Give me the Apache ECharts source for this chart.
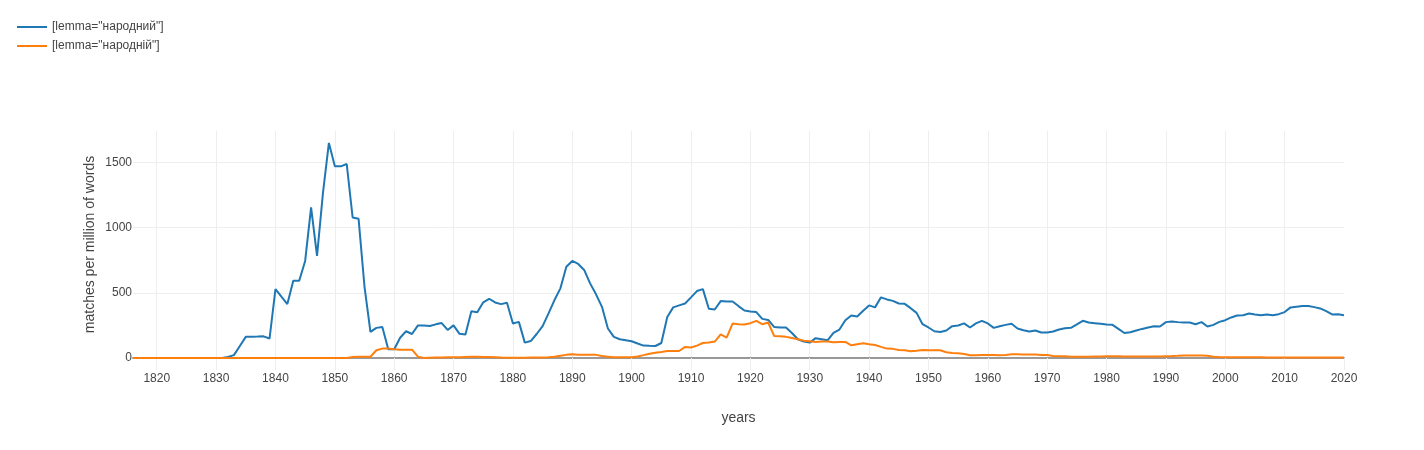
<!DOCTYPE html>
<html>
<head>
<meta charset="utf-8">
<script src="https://cdn.jsdelivr.net/npm/echarts@6/dist/echarts.min.js"></script>
<style>
html,body{margin:0;padding:0;background:#fff;}
#chart{width:1424px;height:450px;}
</style>
</head>
<body>
<div id="chart"></div>
<script>
// Categories: years 1816..2020
const firstYear = 1816, lastYear = 2020;
const years = [];
for (let y = firstYear; y <= lastYear; y++) years.push(String(y));

const seriesNames = ['[lemma="народний"]', '[lemma="народній"]'];

// matches per million of words, one value per year (1816..2020)
const narodnyi = [
  0,0,0,0,                                        // 1816-1819
  0,0,0,0,0,0,0,0,0,0,                            // 1820s
  0,0,8,22,92,162,163,164,166,149,                // 1830s
  528,470,413,592,592,744,1154,782,1265,1649,     // 1840s
  1469,1469,1487,1077,1067,546,200,231,238,67,    // 1850s
  67,155,205,184,250,250,245,258,268,215,         // 1860s
  250,185,180,358,350,427,454,426,413,423,        // 1870s
  265,277,118,130,184,244,342,444,534,700,        // 1880s
  744,721,675,572,488,392,226,162,144,136,        // 1890s
  128,111,95,93,92,115,315,388,403,418,           // 1900s
  465,513,528,377,372,436,433,433,398,364,        // 1910s
  357,352,300,292,238,234,234,192,144,126,        // 1920s
  118,152,144,136,192,218,290,326,318,362,        // 1930s
  403,388,465,449,438,418,415,382,346,259,        // 1940s
  234,205,200,211,244,249,265,234,265,285,        // 1950s
  265,231,244,254,262,226,213,203,211,195,        // 1960s
  195,203,218,228,231,257,285,272,267,262,        // 1970s
  257,254,223,192,198,211,223,234,244,241,        // 1980s
  275,280,275,272,272,259,275,241,254,277,        // 1990s
  290,311,326,328,341,334,328,334,328,336,        // 2000s
  352,388,393,398,398,390,380,359,334,336,        // 2010s
  328                                             // 2020
];
const narodnii = [
  0,0,0,0,
  0,0,0,0,0,0,0,0,0,0,
  0,0,0,0,0,0,0,0,0,0,
  0,0,0,0,0,0,0,0,0,0,
  0,0,0,8,10,10,10,59,72,72,
  67,64,64,64,10,0,2,3,4,5,
  6,5,8,10,9,8,7,6,3,2,
  2,2,2,3,4,4,5,10,18,24,
  28,25,24,24,24,15,10,5,5,5,
  5,12,22,33,40,46,54,54,54,85,
  80,95,115,118,126,182,157,264,259,257,
  267,285,259,272,169,167,162,154,144,133,
  128,123,126,126,120,123,123,97,105,113,
  105,100,85,72,70,62,59,51,56,62,
  59,59,59,44,38,36,31,21,21,23,
  23,23,21,23,28,28,26,26,26,23,
  23,15,13,13,10,10,10,10,11,12,
  13,13,13,12,12,12,12,12,12,12,
  14,15,17,20,20,20,19,17,10,7,
  6,5,5,5,5,5,5,4,4,4,
  4,4,4,4,4,4,4,4,3,3,
  3
];

const yMax = 1740;
const yStep = 500;

const FONT = 'Liberation Sans, Arial, sans-serif';
const TXT = '#444';
const decade = (idx, val) => Number(val) % 10 === 0;

const chart = echarts.init(document.getElementById('chart'), null, {renderer: 'canvas'});
chart.setOption({
  animation: false,
  textStyle: {fontFamily: FONT},
  color: ['#1f77b4', '#ff7f0e'],
  legend: {
    orient: 'vertical',
    left: 12,
    top: 16,
    icon: 'rect',
    itemWidth: 30,
    itemHeight: 2,
    itemGap: 7,
    textStyle: {fontSize: 12, color: TXT, fontFamily: FONT},
    data: seriesNames
  },
  grid: {left: 133, right: 80, top: 131, bottom: 92, containLabel: false},
  xAxis: {
    type: 'category',
    data: years,
    boundaryGap: false,
    name: 'years',
    nameLocation: 'middle',
    nameGap: 53,
    nameMoveOverlap: false,
    nameTextStyle: {fontSize: 14, color: TXT, fontFamily: FONT},
    axisLine: {show: true, onZero: true, lineStyle: {color: '#999', width: 2}},
    axisTick: {show: true, interval: decade, length: 12, lineStyle: {color: '#eee', width: 1}},
    axisLabel: {interval: decade, margin: 15, fontSize: 12, color: TXT, fontFamily: FONT},
    splitLine: {show: true, interval: decade, showMaxLine: false, lineStyle: {color: '#eee', width: 1}}
  },
  yAxis: {
    type: 'value',
    min: 0,
    max: yMax,
    interval: yStep,
    name: 'matches per million of words',
    nameLocation: 'middle',
    nameGap: 36,
    nameMoveOverlap: false,
    nameTextStyle: {fontSize: 14, color: TXT, fontFamily: FONT},
    axisLine: {show: false},
    axisTick: {show: false},
    axisLabel: {margin: 1, fontSize: 12, color: TXT, fontFamily: FONT, showMaxLabel: false,
      formatter: v => String(v)},
    splitLine: {show: true, showMaxLine: false, lineStyle: {color: '#eee', width: 1}}
  },
  series: [
    {name: seriesNames[0], type: 'line', data: narodnyi, symbol: 'none', lineStyle: {width: 2}, z: 3},
    {name: seriesNames[1], type: 'line', data: narodnii, symbol: 'none', lineStyle: {width: 2}, z: 4}
  ]
});
</script>
</body>
</html>
